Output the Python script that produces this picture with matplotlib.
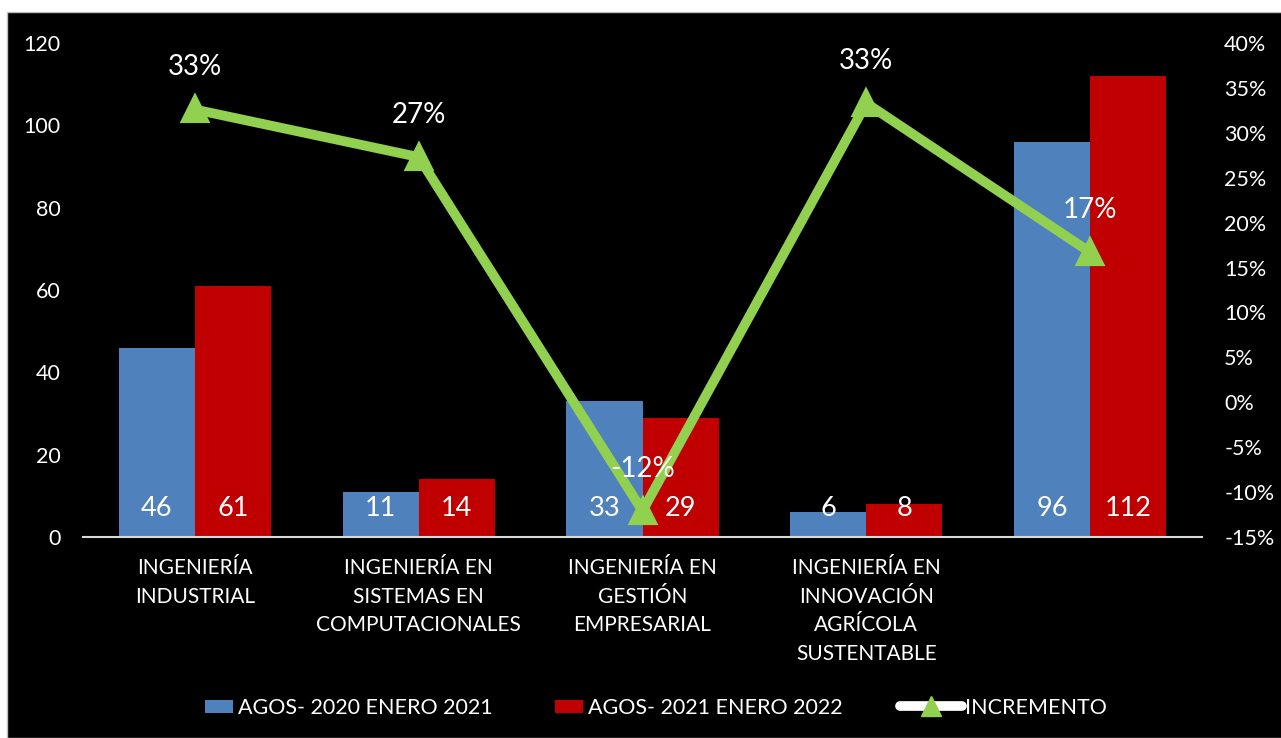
import matplotlib
matplotlib.use("Agg")
import matplotlib.pyplot as plt
from matplotlib.patches import Rectangle, Patch
from matplotlib.lines import Line2D
import numpy as np

plt.rcParams['font.family'] = ['Lato', 'DejaVu Sans']

categories = ["INGENIERÍA\nINDUSTRIAL",
              "INGENIERÍA EN\nSISTEMAS EN\nCOMPUTACIONALES",
              "INGENIERÍA EN\nGESTIÓN\nEMPRESARIAL",
              "INGENIERÍA EN\nINNOVACIÓN\nAGRÍCOLA\nSUSTENTABLE",
              ""]
serie_2020 = [46, 11, 33, 6, 96]
serie_2021 = [61, 14, 29, 8, 112]
incremento = [0.326, 0.273, -0.121, 0.333, 0.167]
incremento_labels = ["33%", "27%", "-12%", "33%", "17%"]
left_ticks = [0, 20, 40, 60, 80, 100, 120]
right_ticks = [-0.15, -0.10, -0.05, 0.0, 0.05, 0.10, 0.15, 0.20, 0.25, 0.30, 0.35, 0.40]
legend_names = ["AGOS- 2020 ENERO 2021", "AGOS- 2021 ENERO 2022", "INCREMENTO"]

BLUE = "#4F81BD"
RED = "#C00000"
GREEN = "#92D050"
W, H = 1281, 738

fig = plt.figure(figsize=(W / 100, H / 100), dpi=100)
fig.patch.set_facecolor("white")
fig.patches.append(Rectangle((7 / W, 0), 1 - 7 / W + 0.01, (H - 12) / H,
                             transform=fig.transFigure, facecolor="black",
                             edgecolor="#BFBFBF", lw=1.0, zorder=-10))

ax = fig.add_axes([83 / W, 1 - 537 / H, (1202 - 83) / W, (537 - 43) / H])
ax.set_facecolor("none")
x = np.arange(len(categories))
bw = 0.34
ax.bar(x - bw / 2, serie_2020, width=bw, color=BLUE, zorder=2)
ax.bar(x + bw / 2, serie_2021, width=bw, color=RED, zorder=2)
for xi, v in zip(x, serie_2020):
    ax.annotate(str(v), (xi - bw / 2, 0), xytext=(0, 15), textcoords="offset points",
                ha="center", va="baseline", color="white", fontsize=19.5, zorder=3)
for xi, v in zip(x, serie_2021):
    ax.annotate(str(v), (xi + bw / 2, 0), xytext=(0, 15), textcoords="offset points",
                ha="center", va="baseline", color="white", fontsize=19.5, zorder=3)

ax.set_xlim(-0.5, len(categories) - 0.5)
ax.set_ylim(0, 120)
ax.set_yticks(left_ticks)
ax.set_xticks(x)
ax.set_xticklabels(categories, color="white", fontsize=15, linespacing=1.55)
ax.tick_params(axis="x", length=0, pad=15)
ax.tick_params(axis="y", length=0, pad=16, labelcolor="white", labelsize=15.5)
for s in ["top", "left", "right"]:
    ax.spines[s].set_visible(False)
ax.spines["bottom"].set_color("#D9D9D9")
ax.spines["bottom"].set_linewidth(1.5)

ax2 = ax.twinx()
ax2.set_ylim(-0.15, 0.40)
ax2.set_yticks(right_ticks)
ax2.set_yticklabels([f"{round(t*100)}%" for t in right_ticks])
ax2.tick_params(axis="y", length=0, pad=16, labelcolor="white", labelsize=15.5)
for s in ax2.spines.values():
    s.set_visible(False)
ax2.plot(x, incremento, color=GREEN, lw=7, marker="^", markersize=17,
         markerfacecolor=GREEN, markeredgecolor=GREEN, markeredgewidth=3,
         solid_joinstyle="round", solid_capstyle="round", zorder=4)
for xi, v, lab in zip(x, incremento, incremento_labels):
    ax2.annotate(lab, (xi, v), xytext=(0, 24.5), textcoords="offset points",
                 ha="center", va="baseline", color="white", fontsize=20, zorder=5)

# Legend (three single-entry legends placed along the bottom)
leg_kw = dict(frameon=False, fontsize=15.5, labelcolor="white", borderpad=0,
              borderaxespad=0, loc="center left")
l1 = fig.legend([Patch(facecolor=BLUE)], [legend_names[0]], handlelength=1.3,
                handleheight=0.56, handletextpad=0.25,
                bbox_to_anchor=(205 / W, 1 - 708 / H), **leg_kw)
l2 = fig.legend([Patch(facecolor=RED)], [legend_names[1]], handlelength=1.3,
                handleheight=0.56, handletextpad=0.25,
                bbox_to_anchor=(555 / W, 1 - 708 / H), **leg_kw)
l3 = fig.legend([Line2D([], [], color="white", lw=7, solid_capstyle="round",
                        marker="^", markersize=15, markerfacecolor=GREEN,
                        markeredgecolor=GREEN)],
                [legend_names[2]], handlelength=2.9, handletextpad=0.1,
                bbox_to_anchor=(900 / W, 1 - 708 / H), **leg_kw)

fig.savefig("out.png", dpi=100, facecolor=fig.get_facecolor())
